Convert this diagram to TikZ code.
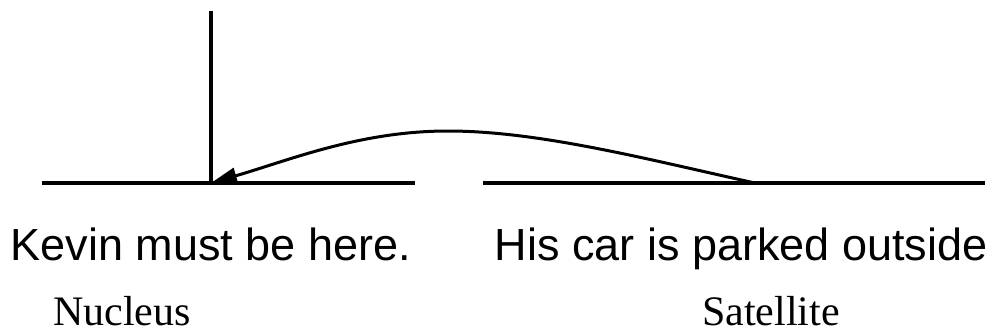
\documentclass[tikz,border=0pt]{standalone}
\usepackage{fontspec}
\setmainfont{Liberation Serif}
\setsansfont{Liberation Sans}
\usetikzlibrary{arrows.meta}

\tikzset{
  span/.style={line width=3.5pt},
  relarc/.style={line width=3pt, -{Triangle[length=26pt,width=16pt]}},
  segtext/.style={font=\sffamily\fontsize{45}{54}\selectfont, anchor=base, inner sep=0pt},
  rolelabel/.style={font=\rmfamily\fontsize{42}{50}\selectfont, anchor=base, inner sep=0pt, text depth=0pt}
}

\begin{document}
\begin{tikzpicture}[x=1pt,y=-1pt]
\useasboundingbox (0,0) rectangle (998,335);
\coordinate (top) at (211,11);
\coordinate (nuc) at (211,183);
\coordinate (nucL) at (42,183);
\coordinate (nucR) at (415,183);
\coordinate (satL) at (483,183);
\coordinate (satR) at (985,183);
\coordinate (sat) at (755,183);
\coordinate (peak) at (448,131);
\draw[span] (nucL) -- (nucR);
\draw[span] (satL) -- (satR);
\draw[span] (top) -- (nuc);
\draw[relarc] (sat) .. controls (650,160) and (540,131) .. (peak)
  .. controls (360,131) and (290,160) .. (nuc);
\node[segtext] (nucText) at (211,260) {Kevin must be here.};
\node[segtext] (satText) at (741,260) {His car is parked outside};
\node[rolelabel] (nucLabel) at (122,325) {Nucleus};
\node[rolelabel] (satLabel) at (771,325) {Satellite};
\end{tikzpicture}
\end{document}
